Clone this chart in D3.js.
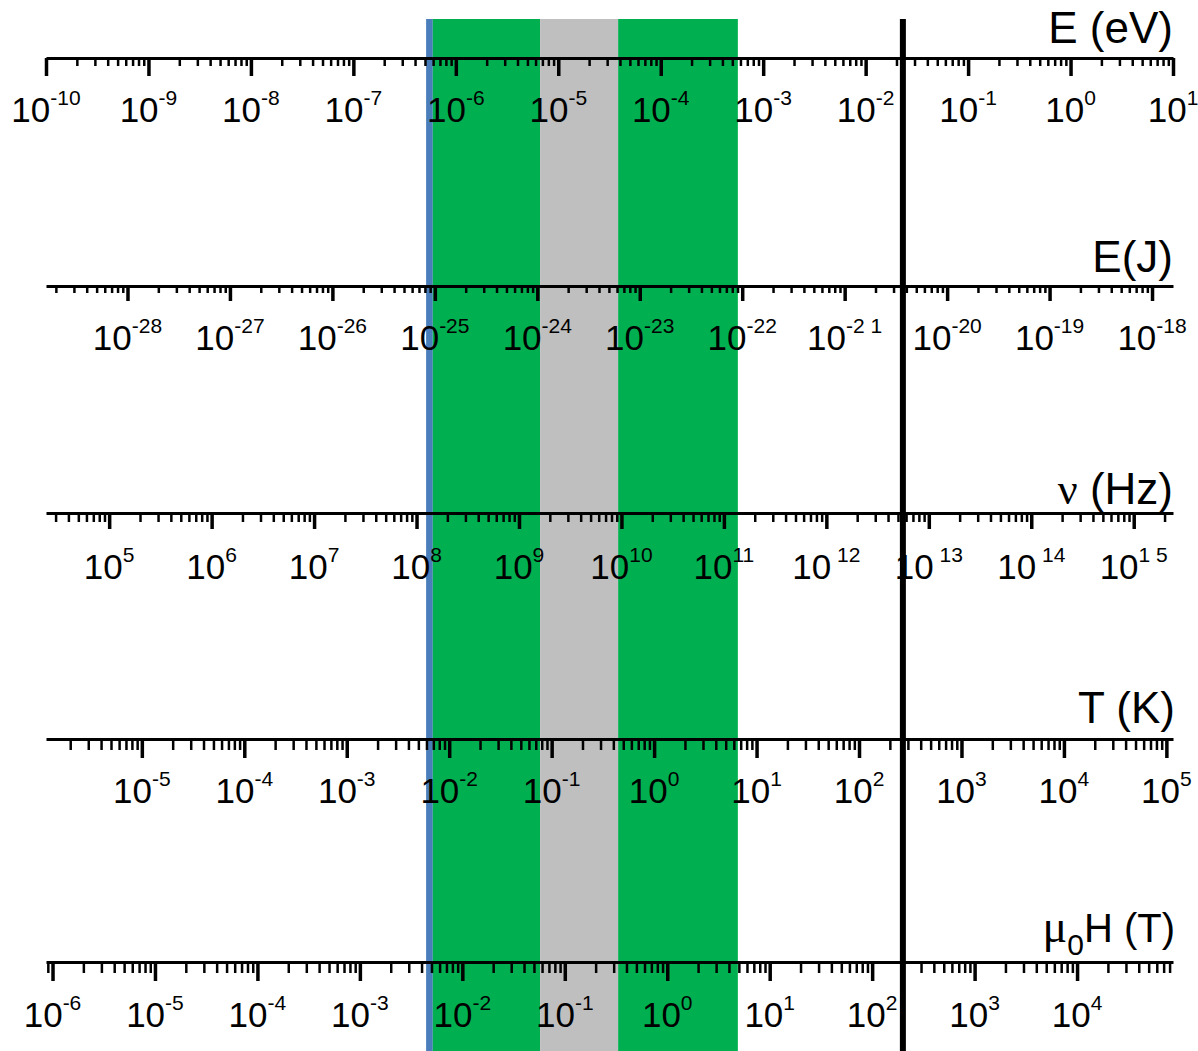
<!DOCTYPE html>
<html>
<head>
<meta charset="utf-8">
<script src="https://cdn.jsdelivr.net/npm/d3@7"></script>
<style>
  body { margin: 0; background: #fff; }
  svg { display: block; font-family: 'Liberation Sans', Arial, sans-serif; }
</style>
</head>
<body>
<div id="chart"></div>
<script>
// full energy range shown, in eV
const energyRange = [1e-10, 1e1]

// axis units and how many eV one unit is worth
const axisNames = ['eV', 'J', 'Hz', 'K', 'T']
const eVPerUnit = [1, 6.241509e18, 4.135667e-15, 8.617333e-5, 1.157676e-4] // T uses g = 2

// exponent text written under each decade tick (as in the picture)
const eVExps = ['-10', '-9', '-8', '-7', '-6', '-5', '-4', '-3', '-2', '-1', '0', '1']
const jouleExps = ['-28', '-27', '-26', '-25', '-24', '-23', '-22', '-2 1', '-20', '-19', '-18']
const hzExps = ['5', '6', '7', '8', '9', '10', '11', ' 12', ' 13', ' 14', '1 5']
const kelvinExps = ['-5', '-4', '-3', '-2', '-1', '0', '1', '2', '3', '4', '5']
const teslaExps = ['-6', '-5', '-4', '-3', '-2', '-1', '0', '1', '2', '3', '4']
const axisExps = [eVExps, jouleExps, hzExps, kelvinExps, teslaExps]

// shaded bands, edges in eV
const bandFrom = [5.13e-7, 5.96e-7, 6.65e-6, 3.84e-5]
const bandTo = [5.96e-7, 6.65e-6, 3.84e-5, 5.66e-4]
const bandKind = ['blue', 'green', 'gray', 'green']

// vertical marker, in eV
const markerEnergy = 0.0231

const width = 1198
const height = 1051
const x0 = 46
const x1 = 1173
const bandTop = 19

const bandColor = { blue: '#4a7ebb', green: '#00b050', gray: '#bfbfbf' }

// per-axis layout: line y, major/minor tick length, label and title offsets
const layout = [
  { y: 58, major: 18, minor: 8, labelDy: 64, titleDy: -15 },
  { y: 286, major: 15, minor: 7, labelDy: 64, titleDy: -14 },
  { y: 513, major: 16, minor: 9, labelDy: 66, titleDy: -9 },
  { y: 739, major: 19, minor: 11, labelDy: 64, titleDy: -16 },
  { y: 962, major: 19, minor: 11, labelDy: 65, titleDy: -20 },
]

const eScale = d3.scaleLog().domain(energyRange).range([x0, x1])

const svg = d3.select('#chart').append('svg')
  .attr('width', width)
  .attr('height', height)

svg.append('rect')
  .attr('width', width)
  .attr('height', height)
  .attr('fill', 'white')

// bands
svg.append('g')
  .selectAll('rect')
  .data(bandKind)
  .join('rect')
  .attr('x', (d, i) => eScale(bandFrom[i]))
  .attr('width', (d, i) => eScale(bandTo[i]) - eScale(bandFrom[i]))
  .attr('y', bandTop)
  .attr('height', height - bandTop)
  .attr('fill', d => bandColor[d])

function decadeTicks(domain) {
  const lo = Math.floor(Math.log10(domain[0])) - 1
  const hi = Math.ceil(Math.log10(domain[1])) + 1
  const majors = []
  const minors = []
  for (let k = lo; k <= hi; k++) {
    const p = Math.pow(10, k)
    if (p >= domain[0] * 0.999 && p <= domain[1] * 1.001) majors.push(k)
    for (let m = 2; m <= 9; m++) {
      const v = m * p
      if (v >= domain[0] && v <= domain[1]) minors.push(v)
    }
  }
  return { majors, minors }
}

axisNames.forEach((name, i) => {
  const L = layout[i]
  const domain = energyRange.map(e => e / eVPerUnit[i])
  const scale = d3.scaleLog().domain(domain).range([x0, x1])
  const { majors, minors } = decadeTicks(domain)

  const g = svg.append('g')
    .attr('transform', 'translate(0,' + L.y + ')')

  // minor ticks
  g.append('g')
    .call(d3.axisBottom(scale).tickValues(minors).tickSize(L.minor).tickSizeOuter(0).tickFormat(''))
    .call(a => a.select('.domain').remove())
    .selectAll('line')
    .attr('stroke', '#000')
    .attr('stroke-width', 2.5)

  // decade ticks and the axis line
  const major = g.append('g')
    .call(d3.axisBottom(scale).tickValues(majors.map(k => Math.pow(10, k))).tickSize(L.major).tickSizeOuter(0).tickFormat(''))
  major.select('.domain')
    .attr('stroke', '#000')
    .attr('stroke-width', 3)
  major.selectAll('line')
    .attr('stroke', '#000')
    .attr('stroke-width', 3.5)

  // labels 10^k
  const exps = axisExps[i]
  const labels = g.append('g')
    .selectAll('text')
    .data(majors)
    .join('text')
    .attr('x', k => scale(Math.pow(10, k)))
    .attr('y', L.labelDy)
    .attr('text-anchor', 'middle')
    .attr('fill', '#000')
  labels.append('tspan')
    .attr('font-size', 35)
    .text('10')
  labels.append('tspan')
    .attr('font-size', 21)
    .attr('dy', -17)
    .style('white-space', 'pre')
    .text((k, j) => exps[j])
})

// axis titles
const titles = svg.append('g')
  .attr('text-anchor', 'end')
  .attr('fill', '#000')

titles.append('text')
  .attr('x', x1)
  .attr('y', layout[0].y + layout[0].titleDy)
  .attr('font-size', 44)
  .text('E (eV)')

titles.append('text')
  .attr('x', x1)
  .attr('y', layout[1].y + layout[1].titleDy)
  .attr('font-size', 44)
  .text('E(J)')

const nu = titles.append('text')
  .attr('x', x1)
  .attr('y', layout[2].y + layout[2].titleDy)
  .attr('font-size', 44)
nu.append('tspan')
  .attr('font-family', "'Liberation Serif', 'Times New Roman', serif")
  .text('ν')
nu.append('tspan')
  .style('white-space', 'pre')
  .text(' (Hz)')

titles.append('text')
  .attr('x', x1 + 2)
  .attr('y', layout[3].y + layout[3].titleDy)
  .attr('font-size', 44)
  .text('T (K)')

const mu = titles.append('text')
  .attr('x', x1 + 2)
  .attr('y', layout[4].y + layout[4].titleDy)
  .attr('font-size', 40)
mu.append('tspan')
  .attr('font-family', "'Liberation Serif', 'Times New Roman', serif")
  .attr('font-size', 46)
  .text('μ')
mu.append('tspan')
  .attr('font-size', 30)
  .attr('dy', 13)
  .text('0')
mu.append('tspan')
  .attr('dy', -13)
  .style('white-space', 'pre')
  .text('H (T)')

// vertical marker line
svg.append('line')
  .attr('x1', eScale(markerEnergy))
  .attr('x2', eScale(markerEnergy))
  .attr('y1', bandTop)
  .attr('y2', height)
  .attr('stroke', '#000')
  .attr('stroke-width', 6)
</script>
</body>
</html>
